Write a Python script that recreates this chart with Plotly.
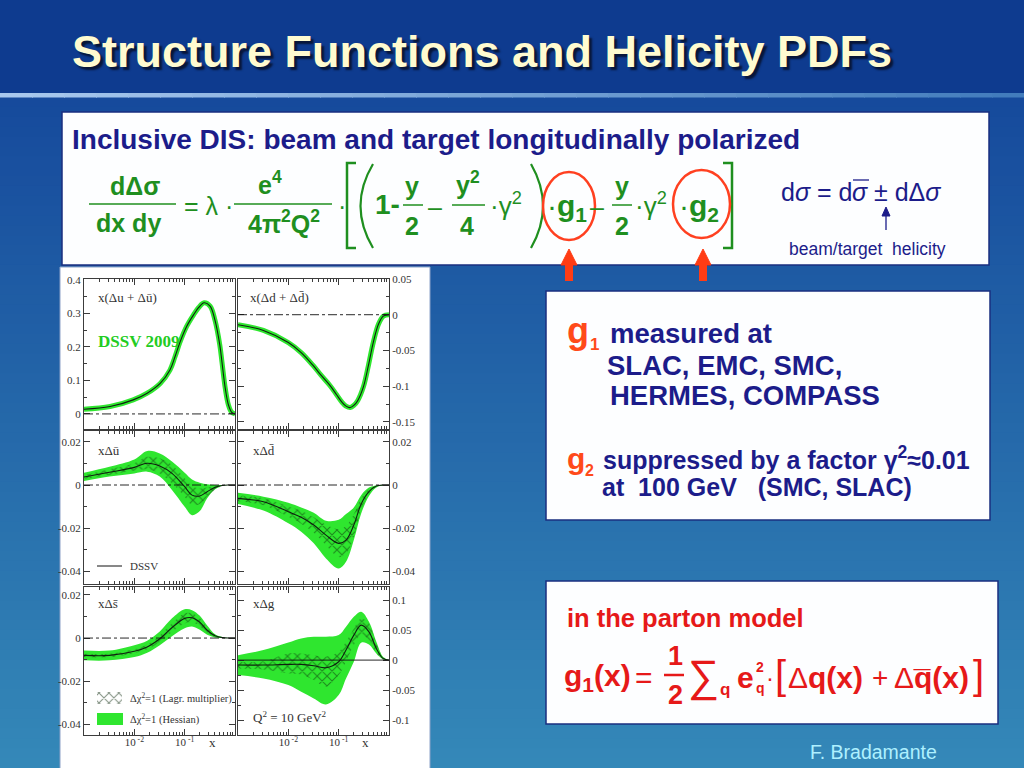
import plotly.graph_objects as go

W, H = 1024, 768

# ---------------- data ----------------
# panel 1: x(Δu+Δubar)
X_UPLUS = [0.001, 0.0033, 0.0095, 0.018, 0.033, 0.051, 0.064, 0.081, 0.11, 0.15, 0.19, 0.243, 0.32, 0.4, 0.5, 0.55, 0.64, 0.74, 0.86, 1.0]
Y_UPLUS = [0.014, 0.022, 0.042, 0.062, 0.092, 0.131, 0.17, 0.215, 0.262, 0.296, 0.318, 0.332, 0.322, 0.28, 0.205, 0.156, 0.077, 0.027, 0.005, 0.0]
# panel 2: x(Δd+Δdbar)
X_DPLUS = [0.001, 0.0032, 0.01, 0.018, 0.031, 0.045, 0.067, 0.091, 0.115, 0.14, 0.17, 0.2, 0.24, 0.31, 0.39, 0.49, 0.62, 0.77, 1.0]
Y_DPLUS = [-0.014, -0.022, -0.039, -0.053, -0.071, -0.085, -0.099, -0.112, -0.122, -0.128, -0.13, -0.127, -0.12, -0.101, -0.071, -0.038, -0.013, -0.002, 0.0]
# sea / gluon panels share one x grid
X_SEA = [0.001, 0.0032, 0.01, 0.018, 0.032, 0.056, 0.1, 0.14, 0.2, 0.28, 0.4, 0.56, 0.76, 1.0]
# panel 3: x Δubar   (U/L = Hessian band, HU/HL = Lagrange band, C = central)
U_UB = [0.0057, 0.0085, 0.0119, 0.0158, 0.0147, 0.0109, 0.0057, 0.0026, 0.0011, 0.0003, 0, 0, 0, 0]
L_UB = [0.0019, 0.0039, 0.0054, 0.0062, 0.0039, -0.0023, -0.0101, -0.014, -0.0121, -0.0062, -0.002, -0.0003, 0, 0]
C_UB = [0.0037, 0.0059, 0.0082, 0.0101, 0.0088, 0.0054, -0.0008, -0.0047, -0.0051, -0.0031, -0.0011, -0.0002, 0, 0]
HU_UB = [0.0045, 0.0073, 0.0101, 0.0132, 0.0124, 0.0093, 0.0031, -0.0005, -0.0016, -0.0011, -0.0005, 0, 0, 0]
HL_UB = [0.0029, 0.0047, 0.0067, 0.0073, 0.0054, 0.0008, -0.0054, -0.0093, -0.0088, -0.0054, -0.0023, -0.0005, 0, 0]
# panel 4: x Δdbar
U_DB = [-0.0036, -0.0054, -0.0082, -0.0104, -0.0129, -0.0166, -0.0162, -0.0135, -0.0104, -0.0047, -0.0012, -0.0002, 0, 0]
L_DB = [-0.0088, -0.0119, -0.0178, -0.0217, -0.0271, -0.0341, -0.0388, -0.0357, -0.0256, -0.0132, -0.0051, -0.0011, -0.0002, 0]
C_DB = [-0.0062, -0.0078, -0.0124, -0.015, -0.0186, -0.0233, -0.0271, -0.0256, -0.0186, -0.0088, -0.0031, -0.0005, 0, 0]
HU_DB = [-0.0048, -0.0062, -0.01, -0.012, -0.015, -0.0185, -0.0205, -0.019, -0.0135, -0.006, -0.002, -0.0003, 0, 0]
HL_DB = [-0.0076, -0.0094, -0.0148, -0.018, -0.0222, -0.028, -0.0335, -0.032, -0.024, -0.0115, -0.0042, -0.0007, 0, 0]
# panel 5: x Δsbar
U_SB = [-0.0058, -0.0058, -0.0033, -0.0012, 0.003, 0.0091, 0.0133, 0.0129, 0.0103, 0.0058, 0.0018, 0.0005, 0, 0]
L_SB = [-0.0103, -0.0103, -0.0088, -0.0068, -0.0033, 0.0008, 0.0045, 0.0053, 0.0038, 0.0015, 0.0003, 0, 0, 0]
C_SB = [-0.008, -0.008, -0.0061, -0.0041, -0.0003, 0.0048, 0.0091, 0.0094, 0.0073, 0.0036, 0.0011, 0.0002, 0, 0]
HU_SB = [-0.0072, -0.0072, -0.0052, -0.003, 0.0012, 0.0068, 0.0115, 0.0115, 0.0092, 0.005, 0.0016, 0.0003, 0, 0]
HL_SB = [-0.0088, -0.0088, -0.007, -0.0052, -0.0018, 0.0028, 0.0067, 0.0073, 0.0055, 0.0024, 0.0006, 0.0001, 0, 0]
# panel 6: x Δg
U_G = [0.0083, 0.0167, 0.0294, 0.0361, 0.0389, 0.0389, 0.0417, 0.0556, 0.0722, 0.0806, 0.0639, 0.0306, 0.0056, 0]
L_G = [-0.025, -0.0306, -0.0417, -0.0528, -0.0639, -0.0739, -0.0583, -0.0306, -0.0028, 0.029, 0.026, 0.011, 0.0015, 0]
C_G = [-0.0083, -0.0083, -0.0072, -0.0072, -0.0094, -0.0128, -0.0028, 0.0167, 0.0417, 0.0583, 0.0472, 0.0194, 0.0028, 0]
HU_G = [-0.0028, -0.0017, 0.0111, 0.0111, 0.0083, 0.0056, 0.0139, 0.0306, 0.0528, 0.0694, 0.0611, 0.0278, 0.0056, 0]
HL_G = [-0.0139, -0.0156, -0.0222, -0.0239, -0.0333, -0.0444, -0.025, -0.0028, 0.025, 0.0417, 0.0333, 0.0111, 0.0, 0]

# tick labels
Y1_TICKS = [0, 0.1, 0.2, 0.3, 0.4]
Y1_TEXT = ["0", "0.1", "0.2", "0.3", "0.4"]
Y2_TICKS = [-0.15, -0.1, -0.05, 0, 0.05]
Y2_TEXT = ["-0.15", "-0.1", "-0.05", "0", "0.05"]
YS_TICKS = [-0.04, -0.02, 0, 0.02]
YS_TEXT = ["-0.04", "-0.02", "0", "0.02"]
YG_TICKS = [-0.1, -0.05, 0, 0.05, 0.1]
YG_TEXT = ["-0.1", "-0.05", "0", "0.05", "0.1"]
X_TICKS = [0.01, 0.1]
X_TEXT = ["10<sup> -2</sup>", "10<sup> -1</sup>"]

# ---------------- styles ----------------
SANS = "Liberation Sans, Arial, Helvetica, sans-serif"
SERIF = "Liberation Serif, Times New Roman, DejaVu Serif, serif"
FRAME = "#3c3c3c"
BAND = "#2fe62f"
HATCH = "#0c2a0c"
NAVY = "#1c1c8a"
FGREEN = "#1f8f1f"
ORED = "#ff4a1a"
RED = "#e61919"


def px(x):
    return x / W


def py(y):
    return 1 - y / H


def sfx(i):
    return "" if i == 1 else str(i)


shapes = []
anns = []


def rect(x0, y0, x1, y1, fill, lc=None, lw=0, layer="below"):
    shapes.append(dict(type="rect", xref="paper", yref="paper", x0=px(x0), x1=px(x1),
                       y0=py(y1), y1=py(y0), fillcolor=fill, layer=layer,
                       line=dict(width=lw, color=lc or fill)))


def pline(x0, y0, x1, y1, color, w=1.5, dash="solid", layer="above"):
    shapes.append(dict(type="line", xref="paper", yref="paper", x0=px(x0), x1=px(x1),
                       y0=py(y0), y1=py(y1), layer=layer, line=dict(color=color, width=w, dash=dash)))


def path(pts, color, w=1.5, fill=None, close=False, curve=False):
    if curve:
        (a, b, c) = pts
        d = f"M {px(a[0])},{py(a[1])} Q {px(b[0])},{py(b[1])} {px(c[0])},{py(c[1])}"
    else:
        d = "M " + " L ".join(f"{px(x)},{py(y)}" for x, y in pts)
        if close:
            d += " Z"
    shapes.append(dict(type="path", xref="paper", yref="paper", path=d, layer="above",
                       fillcolor=fill if fill else "rgba(0,0,0,0)",
                       line=dict(color=color, width=w)))


def ell(x0, y0, x1, y1, color, w=2.5):
    shapes.append(dict(type="circle", xref="paper", yref="paper", x0=px(x0), x1=px(x1),
                       y0=py(y1), y1=py(y0), layer="above", line=dict(color=color, width=w)))


def T(x, y, s, size, color, bold=False, xa="left", ya="middle", family=SANS, shadow=None):
    if bold:
        s = f"<b>{s}</b>"
    font = dict(size=size, color=color, family=family)
    if shadow:
        font["shadow"] = shadow
    anns.append(dict(x=px(x), y=py(y), xref="paper", yref="paper", text=s, showarrow=False,
                     xanchor=xa, yanchor=ya, font=font))


def mix(c0, c1, t):
    return "#%02x%02x%02x" % tuple(int(round(c0[i] + (c1[i] - c0[i]) * t)) for i in range(3))


# ---------------- background ----------------
rect(0, -2, W, 94, "#0e3b8f")
top, bot = (22, 74, 156), (52, 136, 184)
n = 68
for i in range(n):
    y0 = 97 + i * (H - 97) / n
    rect(0, y0, W, y0 + (H - 97) / n + 1, mix(top, bot, i / (n - 1)))
# light stripe under the title
m = 32
for i in range(m):
    x0 = i * W / m
    rect(x0, 93, x0 + W / m + 1, 97.5, mix((168, 200, 238), (66, 124, 188), i / (m - 1)))

# white boxes
rect(62, 112, 989, 265, "#fdfeff", "#1a2f80", 1.5)
rect(546, 291, 990, 520, "#fdfeff", "#1a2f80", 1.5)
rect(546, 581, 998, 724, "#fdfeff", "#1a2f80", 1.5)
rect(60, 267, 430, 770, "#ffffff", "#8da2c8", 1)

# ---------------- title ----------------
T(70, 51, "Structure Functions and Helicity PDFs", 45, "#fffbd0", True, shadow="3px 3px 2px #081638")

# ---------------- formula box ----------------
T(70, 139, "Inclusive DIS: beam and target longitudinally polarized", 28, NAVY, True)
FS = 25
T(135, 186, "dΔσ", FS, FGREEN, True, "center")
T(128, 223, "dx dy", FS, FGREEN, True, "center")
pline(89, 204, 176, 204, FGREEN, 1.5)
T(182, 206, "= λ ·", FS, FGREEN, False)
T(270, 183, "e<sup>4</sup>", FS, FGREEN, True, "center")
T(284, 222, "4π<sup>2</sup>Q<sup>2</sup>", FS, FGREEN, True, "center")
pline(234, 204, 332, 204, FGREEN, 1.5)
T(342, 206, "·", FS, FGREEN, False, "center")
path([(356, 163), (347, 163), (347, 248), (356, 248)], FGREEN, 2.5)
path([(373, 164), (348, 206), (373, 248)], FGREEN, 2.2, curve=True)
T(373, 205, "1-", 28, FGREEN, True)
T(412, 186, "y", FS, FGREEN, True, "center")
T(412, 226, "2", FS, FGREEN, True, "center")
pline(403, 205, 423, 205, FGREEN, 1.5)
T(435, 207, "–", FS, FGREEN, False, "center")
T(468, 183, "y<sup>2</sup>", FS, FGREEN, True, "center")
T(467, 226, "4", FS, FGREEN, True, "center")
pline(452, 205, 485, 205, FGREEN, 1.5)
T(488, 205, "·γ<sup>2</sup>", 26, FGREEN, False)
path([(531, 164), (555, 206), (531, 248)], FGREEN, 2.2, curve=True)
T(545, 207, "·<b>g</b><sub><b>1</b></sub>", 30, FGREEN, False)
T(597, 207, "–", FS, FGREEN, False, "center")
T(622, 186, "y", FS, FGREEN, True, "center")
T(622, 226, "2", FS, FGREEN, True, "center")
pline(612, 205, 632, 205, FGREEN, 1.5)
T(633, 205, "·γ<sup>2</sup>", 26, FGREEN, False)
T(677, 207, "·<b>g</b><sub><b>2</b></sub>", 30, FGREEN, False)
path([(723, 163), (732, 163), (732, 248), (723, 248)], FGREEN, 2.5)
ell(543, 172, 595, 240, "#ff4020")
ell(673, 170, 730, 238, "#ff4020")
T(779, 192, "d<i>σ</i> = d", 25, NAVY, False)
T(860, 192, "<i>σ</i>", 25, NAVY, False, "center")
pline(853, 180, 869, 180, NAVY, 1.3)
T(872, 192, "± dΔ<i>σ</i>", 25, NAVY, False)
path([(886, 230), (886, 212)], NAVY, 1.3)
path([(882, 216), (886, 207), (890, 216)], NAVY, 1, fill=NAVY, close=True)
T(787, 249, "beam/target\u00a0\u00a0helicity", 17.5, NAVY, False)

# red arrows
for cx in (569, 703):
    path([(cx - 8, 265), (cx, 249), (cx + 8, 265)], "#ff3c14", 1, fill="#ff3c14", close=True)
    rect(cx - 4, 264, cx + 4, 281, "#ff3c14", layer="above")

# ---------------- g1 / g2 box ----------------
T(565, 331, "g", 36, ORED, True)
T(588, 344, "1", 17, ORED, True)
T(608, 333, "measured at", 27.5, NAVY, True)
T(605, 365, "SLAC, EMC, SMC,", 27.5, NAVY, True)
T(608, 395, "HERMES, COMPASS", 27.5, NAVY, True)
T(565, 458, "g", 30, ORED, True)
T(583, 470, "2", 16, ORED, True)
T(601, 458, "suppressed by a factor γ<sup>2</sup>≈0.01", 25, NAVY, True)
T(600, 487, "at\u00a0\u00a0100 GeV\u00a0\u00a0\u00a0(SMC, SLAC)", 25, NAVY, True)

# ---------------- parton model box ----------------
T(565, 618, "in the parton model", 25.5, RED, True)
T(562, 677, "g<sub>1</sub>(x)", 30, RED, True)
T(644, 677, "=", 30, RED, False, "center")
T(675, 656, "1", 27, RED, True, "center")
pline(664, 675, 684, 675, RED, 2.5)
T(675, 695, "2", 27, RED, True, "center")
T(703, 676, "∑", 44, RED, False, "center")
T(718, 689, "q", 17, RED, True)
T(735, 677, "e", 30, RED, True)
T(754, 667, "2", 14, RED, True)
T(754, 688, "q", 14, RED, True)
T(770, 677, "·", 24, RED, False, "center")
T(780, 675, "[", 40, RED, False, "center")
T(786, 677, "Δ<b>q(x)</b>", 30, RED, False)
T(880, 677, "+", 28, RED, False, "center")
T(892, 677, "Δ<b>q\u0305(x)</b>", 30, RED, False)
T(978, 675, "]", 40, RED, False, "center")

T(808, 752, "F. Bradamante", 19.5, "#aef0ff", False)

# ---------------- PDF panels ----------------
cols = [(84, 235), (238, 389)]
rows = [(279, 429), (431, 584), (587, 735)]
MINOR_X = [mm * 10.0 ** e for e in (-3, -2, -1) for mm in range(2, 10)]

panels = [
    dict(c=0, r=0, yr=[-0.045, 0.403], tv=Y1_TICKS, tt=Y1_TEXT, mn=0.05),
    dict(c=1, r=0, yr=[-0.16, 0.05], tv=Y2_TICKS, tt=Y2_TEXT, mn=0.025),
    dict(c=0, r=1, yr=[-0.046, 0.0251], tv=YS_TICKS, tt=YS_TEXT, mn=0.01),
    dict(c=1, r=1, yr=[-0.046, 0.0251], tv=YS_TICKS, tt=YS_TEXT, mn=0.01),
    dict(c=0, r=2, yr=[-0.0448, 0.0236], tv=YS_TICKS, tt=YS_TEXT, mn=0.01),
    dict(c=1, r=2, yr=[-0.125, 0.122], tv=YG_TICKS, tt=YG_TEXT, mn=0.025),
]

layout_axes = {}
for i, p in enumerate(panels, start=1):
    c0, c1 = cols[p["c"]]
    r0, r1 = rows[p["r"]]
    bottom = p["r"] == 2
    layout_axes[f"xaxis{sfx(i)}"] = dict(
        type="log", range=[-3, 0], domain=[px(c0), px(c1)], anchor=f"y{sfx(i)}",
        showline=True, mirror="allticks", linecolor=FRAME, linewidth=1,
        ticks="inside", ticklen=6, tickcolor=FRAME, tickwidth=1,
        tickmode="array", tickvals=X_TICKS, ticktext=X_TEXT, showticklabels=bottom,
        ticklabelstandoff=-3,
        tickfont=dict(family=SERIF, size=11, color="#333"), automargin=False,
        minor=dict(ticks="inside", ticklen=3, tickcolor=FRAME, tickmode="array", tickvals=MINOR_X),
        showgrid=False, zeroline=False, fixedrange=True)
    layout_axes[f"yaxis{sfx(i)}"] = dict(
        range=p["yr"], domain=[py(r1), py(r0)], anchor=f"x{sfx(i)}",
        side="left" if p["c"] == 0 else "right",
        showline=True, mirror="allticks", linecolor=FRAME, linewidth=1,
        ticks="inside", ticklen=6, tickcolor=FRAME, tickwidth=1,
        tickmode="array", tickvals=p["tv"], ticktext=p["tt"],
        tickfont=dict(family=SERIF, size=11, color="#333"), automargin=False,
        minor=dict(ticks="inside", ticklen=3, tickcolor=FRAME, tickmode="linear", tick0=0, dtick=p["mn"]),
        showgrid=False, zeroline=False, fixedrange=True)

# overlay pixel axis for legend glyphs
layout_axes["xaxis7"] = dict(domain=[0, 1], range=[0, W], anchor="y7", visible=False, fixedrange=True)
layout_axes["yaxis7"] = dict(domain=[0, 1], range=[H, 0], anchor="x7", visible=False, fixedrange=True)

fig = go.Figure()
PATTERN = dict(shape="x", fgcolor=HATCH, bgcolor="rgba(0,0,0,0)", size=7, solidity=0.28)
SPL = dict(shape="spline", smoothing=1.0)


def band(xs, up, lo, i, hatch=False):
    xx = list(xs) + list(xs)[::-1]
    yy = list(up) + list(lo)[::-1]
    kw = dict(x=xx, y=yy, xaxis=f"x{sfx(i)}", yaxis=f"y{sfx(i)}", mode="lines", fill="toself",
              line=dict(width=0, **SPL), hoverinfo="skip", showlegend=False)
    if hatch:
        kw["fillcolor"] = "rgba(0,0,0,0)"
        kw["fillpattern"] = PATTERN
    else:
        kw["fillcolor"] = BAND
    fig.add_trace(go.Scatter(**kw))


def central(xs, ys, i, glow=False):
    if glow:
        fig.add_trace(go.Scatter(x=xs, y=ys, xaxis=f"x{sfx(i)}", yaxis=f"y{sfx(i)}", mode="lines",
                                 line=dict(color=BAND, width=5, **SPL),
                                 hoverinfo="skip", showlegend=False))
    fig.add_trace(go.Scatter(x=xs, y=ys, xaxis=f"x{sfx(i)}", yaxis=f"y{sfx(i)}", mode="lines",
                             line=dict(color="#0f1f0f", width=1.1, **SPL),
                             hoverinfo="skip", showlegend=False))


central(X_UPLUS, Y_UPLUS, 1, glow=True)
central(X_DPLUS, Y_DPLUS, 2, glow=True)
for i, (U, L, C, HU, HL) in enumerate([(U_UB, L_UB, C_UB, HU_UB, HL_UB),
                                        (U_DB, L_DB, C_DB, HU_DB, HL_DB),
                                        (U_SB, L_SB, C_SB, HU_SB, HL_SB),
                                        (U_G, L_G, C_G, HU_G, HL_G)], start=3):
    band(X_SEA, U, L, i)
    band(X_SEA, HU, HL, i, hatch=True)
    central(X_SEA, C, i)

# zero lines
for i in range(1, 7):
    shapes.append(dict(type="line", xref=f"x{sfx(i)} domain", yref=f"y{sfx(i)}", x0=0, x1=1, y0=0, y1=0,
                       layer="above", line=dict(color="#111", width=0.9,
                                                dash="solid" if i == 6 else "dashdot")))

# legend glyphs (pixel overlay)
fig.add_trace(go.Scatter(x=[97, 122, 122, 97, 97], y=[692, 692, 704, 704, 692], xaxis="x7", yaxis="y7",
                         mode="lines", fill="toself", fillcolor="rgba(0,0,0,0)", fillpattern=PATTERN,
                         line=dict(width=0), hoverinfo="skip", showlegend=False))
rect(97, 713, 123, 725, BAND, layer="above")
pline(97, 566, 122, 566, "#111", 1)

# panel texts
T(96, 297, "x(Δu + Δu\u0304)", 13, "#333", False, family=SERIF)
T(96, 341, "DSSV 2009", 17, "#22cc22", True, family=SERIF)
T(248, 297, "x(Δd + Δd\u0304)", 13, "#333", False, family=SERIF)
T(96, 450, "xΔu\u0304", 13, "#333", False, family=SERIF)
T(128, 566, "DSSV", 11, "#333", False, family=SERIF)
T(251, 450, "xΔd\u0304", 13, "#333", False, family=SERIF)
T(96, 603, "xΔs\u0304", 13, "#333", False, family=SERIF)
T(251, 603, "xΔg", 13, "#333", False, family=SERIF)
T(128, 698, "Δχ<sup>2</sup>=1 (Lagr. multiplier)", 10.5, "#333", False, family=SERIF)
T(128, 719, "Δχ<sup>2</sup>=1 (Hessian)", 10.5, "#333", False, family=SERIF)
T(251, 717, "Q<sup>2</sup> = 10 GeV<sup>2</sup>", 13, "#333", False, family=SERIF)
T(212, 742, "x", 13, "#333", False, "center", family=SERIF)
T(365, 742, "x", 13, "#333", False, "center", family=SERIF)

fig.update_layout(width=W, height=H, autosize=False,
                  margin=dict(l=0, r=0, t=0, b=0, pad=0, autoexpand=False),
                  paper_bgcolor="#0e3b8f", plot_bgcolor="rgba(0,0,0,0)",
                  showlegend=False, shapes=shapes, annotations=anns, **layout_axes)

fig.write_html("out.html", config=dict(displayModeBar=False),
               post_script="document.body.style.margin='0px';document.body.style.overflow='hidden';")
